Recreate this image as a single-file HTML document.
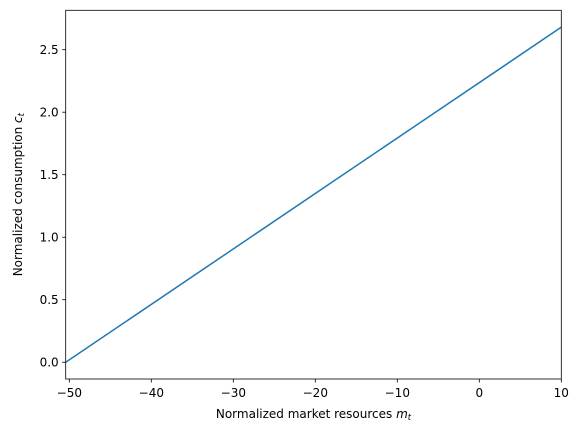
<!DOCTYPE html>
<html><head><meta charset="utf-8"><style>
body{margin:0;background:#fff;}
svg text{font-family:"DejaVu Sans","Liberation Sans",sans-serif;font-size:12px;fill:#000;}
</style></head><body>
<svg width="580" height="436" viewBox="0 0 580 436" id="chart">
</svg>
<script>
const mValues = [-50.44, 10];
const cValues = [0, 2.68];
const xTicks = [-50, -40, -30, -20, -10, 0, 10];
const yTicks = [0.0, 0.5, 1.0, 1.5, 2.0, 2.5];
const yTickLabels = ["0.0","0.5","1.0","1.5","2.0","2.5"];

const L=65.7,R=561.3,T=10.3,B=379;
const xMin=-50.44,xMax=10,yMin=-0.134,yMax=2.815;
const xs=v=>L+(v-xMin)/(xMax-xMin)*(R-L);
const ys=v=>B-(v-yMin)/(yMax-yMin)*(B-T);
const svg=document.getElementById('chart');
const NS='http://www.w3.org/2000/svg';
function mk(t,a){const e=document.createElementNS(NS,t);for(const k in a)e.setAttribute(k,a[k]);svg.appendChild(e);return e;}

const line=mk('polyline',{points:mValues.map((m,i)=>xs(m)+','+ys(cValues[i])).join(' '),fill:'none',stroke:'#1f77b4','stroke-width':1.5});



const frame=mk('rect',{x:L,y:T,width:R-L,height:B-T,fill:'none',stroke:'#000','stroke-width':0.8});



xTicks.forEach(v=>{
  const x=xs(v);
  const tk=mk('line',{x1:x,x2:x,y1:B,y2:B+3.5,stroke:'#000','stroke-width':0.8});
  
  
  const t=mk('text',{x:x,y:B+18,'text-anchor':'middle'});
  t.textContent=(v<0?'\u2212'+(-v):String(v));
  
  
});
yTicks.forEach((v,i)=>{
  const y=ys(v);
  const tk=mk('line',{x1:L-3.5,x2:L,y1:y,y2:y,stroke:'#000','stroke-width':0.8});
  
  
  const t=mk('text',{x:L-7,y:y+4.5,'text-anchor':'end'});
  t.textContent=yTickLabels[i];
  
  
});
const xl=mk('text',{x:(L+R)/2,y:418,'text-anchor':'middle'});
xl.innerHTML='Normalized market resources <tspan font-style="italic">m</tspan><tspan font-style="italic" font-size="8.5" dy="2">t</tspan>';


const yl=mk('text',{x:0,y:0,'text-anchor':'middle',transform:`translate(22,${(T+B)/2}) rotate(-90)`});
yl.innerHTML='Normalized consumption <tspan font-style="italic">c</tspan><tspan font-style="italic" font-size="8.5" dy="2">t</tspan>';


</script>
</body></html>
